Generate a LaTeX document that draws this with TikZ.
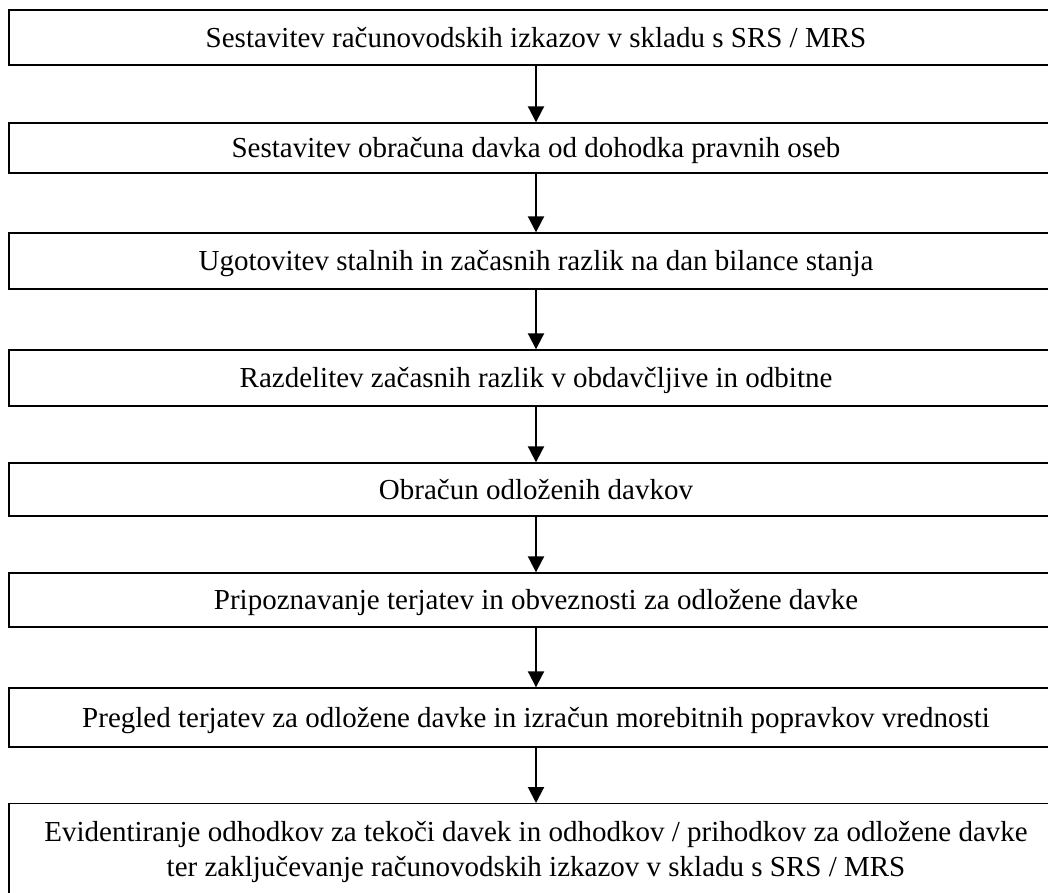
\documentclass[tikz,border=0pt]{standalone}
\usepackage{fontspec}
\setmainfont{Liberation Serif}
\usetikzlibrary{arrows.meta}
\begin{document}
\begin{tikzpicture}[x=1pt, y=-1pt,
  korak/.style={draw, line width=1.4pt, minimum width=1054pt, inner sep=0pt,
    font=\fontsize{29}{35}\selectfont, text height=26pt, text depth=7pt},
  puscica/.style={-{Triangle[width=16pt,length=16pt]}, line width=2pt}]
\useasboundingbox (0,0) rectangle (1048,892);
% steps
\node[korak, minimum height=55pt] (k1) at (536,37.5) {Sestavitev računovodskih izkazov v skladu s SRS / MRS};
\node[korak, minimum height=50pt] (k2) at (536,148) {Sestavitev obračuna davka od dohodka pravnih oseb};
\node[korak, minimum height=56pt] (k3) at (536,261) {Ugotovitev stalnih in začasnih razlik na dan bilance stanja};
\node[korak, minimum height=56pt] (k4) at (536,378) {Razdelitev začasnih razlik v obdavčljive in odbitne};
\node[korak, minimum height=53pt] (k5) at (536,489.5) {Obračun odloženih davkov};
\node[korak, minimum height=54pt] (k6) at (536,600) {Pripoznavanje terjatev in obveznosti za odložene davke};
\node[korak, minimum height=59pt] (k7) at (536,717.5) {Pregled terjatev za odložene davke in izračun morebitnih popravkov vrednosti};
\node[korak, minimum height=96pt, anchor=north, text height=, text depth=, align=center] (k8) at (536,803)
  {Evidentiranje odhodkov za tekoči davek in odhodkov / prihodkov za odložene davke\\
   ter zaključevanje računovodskih izkazov v skladu s SRS / MRS};
% arrows
\foreach \a/\b in {k1/k2, k2/k3, k3/k4, k4/k5, k5/k6, k6/k7, k7/k8}
  \draw[puscica] (\a) -- (\b);
\end{tikzpicture}
\end{document}
